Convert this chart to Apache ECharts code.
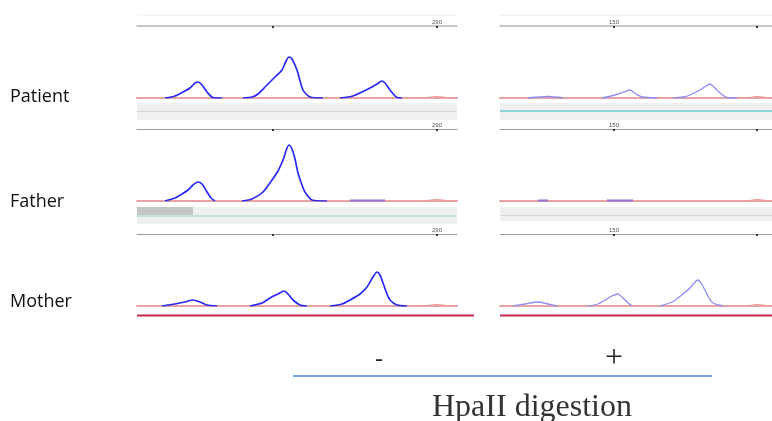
<!DOCTYPE html>
<html>
<head>
<meta charset="utf-8">
<title>HpaII digestion</title>
<script src="https://cdn.jsdelivr.net/npm/echarts@6/dist/echarts.min.js"></script>
<style>
html, body { margin: 0; padding: 0; background: #fff; }
#main { width: 772px; height: 421px; }
</style>
</head>
<body>
<div id="main"></div>
<script>
var rows = ['Patient', 'Father', 'Mother'];
var digestLabels = ['-', '+'];
var axisTitle = 'HpaII digestion';

// peak traces, [position, height]; each inner list is one drawn segment
var patientMinus = [
    [[28,0],[38,2],[46,6],[53,10],[58,15],[61,16],[65,13],[70,6],[76,0.5],[85,0]],
    [[106,0],[115,1],[121,4],[129,12],[138,21],[145,28],[149,37],[152,41],[155,39],[160,28],[166,8],[173,1],[186,0]],
    [[203,0],[216,2],[225,6],[233,10],[240,14],[245,17],[248,15],[253,8],[260,0.5],[265,0]]
];
var fatherMinus = [
    [[28,0],[38,3],[45,7],[51,11],[56,16],[61,19],[65,17],[70,9],[74,3],[78,0]],
    [[105,0],[115,2],[126,9],[135,21],[141,30],[146,41],[150,53],[152,56],[155,52],[158,42],[161,28],[165,16],[168,9],[175,1],[190,0]]
];
var motherMinus = [
    [[25,0],[38,2],[48,4],[56,6],[63,4],[70,1],[80,0]],
    [[113,0],[125,3],[133,8],[141,12],[147,15],[151,12],[156,6],[163,1],[170,0]],
    [[193,0],[205,2],[213,6],[223,12],[230,19],[236,29],[240,34],[243,31],[246,23],[250,12],[253,6],[260,1],[270,0]]
];
var patientPlus = [
    [[28,0],[48,1.5],[63,0]],
    [[102,0],[115,3],[124,6],[130,8],[136,4],[142,1],[157,0]],
    [[173,0],[183,1],[190,3],[200,8],[206,12],[210,14],[214,11],[220,5],[227,0.5],[237,0]]
];
var fatherPlus = [];
var motherPlus = [
    [[13,0],[25,2],[38,4],[48,2],[57,0]],
    [[88,0],[98,2],[105,6],[112,10],[118,12],[122,9],[127,4],[132,0]],
    [[160,0],[172,4],[183,12],[190,18],[195,24],[198,26],[201,23],[205,16],[209,8],[213,3],[223,0]]
];
// size standard bumps (red) and low signal (purple)
var sizeStdMinus = [[[286,0],[300,1.5],[313,0]]];
var sizeStdPlus = [[[247,0],[257,1.5],[270,0]]];
var fatherMinusLow = [[[213,0.5],[248,0.5]]];
var fatherPlusLow = [[[38,0.5],[48,0.5]], [[107,0.5],[133,0.5]]];

// ruler ticks on top of each panel
var minusRulerTicks = [136, 300];
var plusRulerTicks = [114, 257];
var minusRulerLabel = {300: '290'};
var plusRulerLabel = {114: '150'};

function joinSegs(segs) {
    var out = [];
    segs.forEach(function (s, i) {
        if (i > 0) out.push([s[0][0] - 1, '-']);
        out = out.concat(s);
    });
    return out;
}

var traces = [patientMinus, patientPlus, fatherMinus, fatherPlus, motherMinus, motherPlus];
var lows = [[], [], fatherMinusLow, fatherPlusLow, [], []];
var tops = [26, 26, 129, 129, 234, 234];

var grid = [], xAxis = [], yAxis = [], series = [];
for (var i = 0; i < 6; i++) {
    var minus = i % 2 === 0;
    var w = minus ? 320 : 272;
    grid.push({ left: minus ? 137 : 500, top: tops[i], width: w, height: 72 });
    xAxis.push({
        type: 'value', gridIndex: i, min: 0, max: w, position: 'bottom',
        axisLine: { lineStyle: { color: '#e8a4a4', width: 2 } },
        axisTick: { show: false }, axisLabel: { show: false }, splitLine: { show: false }
    });
    xAxis.push({
        type: 'value', gridIndex: i, min: 0, max: w, position: 'top',
        axisLine: { lineStyle: { color: i < 2 ? '#b4b4b4' : '#9a9a9a', width: i < 2 ? 1.5 : 1 } },
        axisTick: { show: true, length: 2, inside: true, customValues: minus ? minusRulerTicks : plusRulerTicks,
            lineStyle: { color: '#333', width: 2 } },
        axisLabel: { show: true, fontSize: 6, color: '#555', margin: 1,
            customValues: minus ? [300] : [114],
            formatter: function (v) { return (minusRulerLabel[v] || plusRulerLabel[v] || ''); } },
        splitLine: { show: false }
    });
    yAxis.push({ type: 'value', gridIndex: i, min: 0, max: 72, show: false, splitLine: { show: false } });

    series.push({
        type: 'line', xAxisIndex: 2 * i, yAxisIndex: i, data: joinSegs(lows[i]),
        showSymbol: false, lineStyle: { color: '#9a70d8', width: 2 }, z: 3
    });
    series.push({
        type: 'line', xAxisIndex: 2 * i, yAxisIndex: i,
        data: joinSegs(minus ? sizeStdMinus : sizeStdPlus),
        smooth: 0.4, showSymbol: false, lineStyle: { color: '#e79a9a', width: 1.2 }, z: 3
    });
    series.push({
        type: 'line', xAxisIndex: 2 * i, yAxisIndex: i, data: joinSegs(traces[i]),
        smooth: 0.25, showSymbol: false,
        lineStyle: { color: minus ? '#2a2af2' : '#8c8cf6', width: minus ? 1.7 : 1.3 }, z: 4
    });
}

var textFont = '"Open Sans", "Liberation Sans", sans-serif';
var serifFont = '"Liberation Serif", "DejaVu Serif", serif';

var graphic = [
    { type: 'line', shape: { x1: 137, y1: 15, x2: 457, y2: 15 }, style: { stroke: '#eeeeee', lineWidth: 1 } },
    { type: 'line', shape: { x1: 500, y1: 15, x2: 772, y2: 15 }, style: { stroke: '#eeeeee', lineWidth: 1 } },
    // band under Patient
    { type: 'rect', shape: { x: 137, y: 103, width: 320, height: 17 }, style: { fill: '#f0f0f0' } },
    { type: 'line', shape: { x1: 137, y1: 111.5, x2: 457, y2: 111.5 }, style: { stroke: '#d4d4d4', lineWidth: 1 } },
    { type: 'rect', shape: { x: 500, y: 103, width: 272, height: 17 }, style: { fill: '#f0f0f0' } },
    { type: 'line', z: 10, shape: { x1: 500, y1: 111, x2: 772, y2: 111 }, style: { stroke: '#6fcfcf', lineWidth: 1.5 } },
    // band under Father
    { type: 'rect', shape: { x: 137, y: 207, width: 320, height: 17 }, style: { fill: '#f0f0f0' } },
    { type: 'rect', shape: { x: 137, y: 207, width: 56, height: 8 }, style: { fill: '#c6c6c6' } },
    { type: 'line', z: 10, shape: { x1: 137, y1: 216, x2: 457, y2: 216 }, style: { stroke: '#8fd8d8', lineWidth: 1.2 } },
    { type: 'rect', shape: { x: 500, y: 207, width: 272, height: 14 }, style: { fill: '#f0f0f0' } },
    { type: 'line', shape: { x1: 500, y1: 215.5, x2: 772, y2: 215.5 }, style: { stroke: '#d4d4d4', lineWidth: 1 } },
    // underline of Mother
    { type: 'line', shape: { x1: 137, y1: 315.5, x2: 474, y2: 315.5 }, style: { stroke: '#c6284c', lineWidth: 2 } },
    { type: 'line', shape: { x1: 500, y1: 315.5, x2: 772, y2: 315.5 }, style: { stroke: '#c6284c', lineWidth: 2 } },
    // digestion axis
    { type: 'line', shape: { x1: 293, y1: 376, x2: 712, y2: 376 }, style: { stroke: '#4a80d6', lineWidth: 1.5 } },
    { type: 'text', left: 375, top: 348, style: { text: digestLabels[0], font: '24px ' + serifFont, fill: '#222' } },
    { type: 'text', left: 605, top: 343, style: { text: digestLabels[1], font: '32px ' + serifFont, fill: '#222' } },
    { type: 'text', left: 432, top: 392, style: { text: axisTitle, font: '32px ' + serifFont, fill: '#333' } }
];
var rowTop = [88, 193, 293];
rows.forEach(function (r, k) {
    graphic.push({ type: 'text', left: 10, top: rowTop[k],
        style: { text: r, font: '18px ' + textFont, fill: '#111' } });
});

var myChart = echarts.init(document.getElementById('main'));
myChart.setOption({
    animation: false,
    backgroundColor: '#fff',
    grid: grid,
    xAxis: xAxis,
    yAxis: yAxis,
    series: series,
    graphic: graphic
});
</script>
</body>
</html>
